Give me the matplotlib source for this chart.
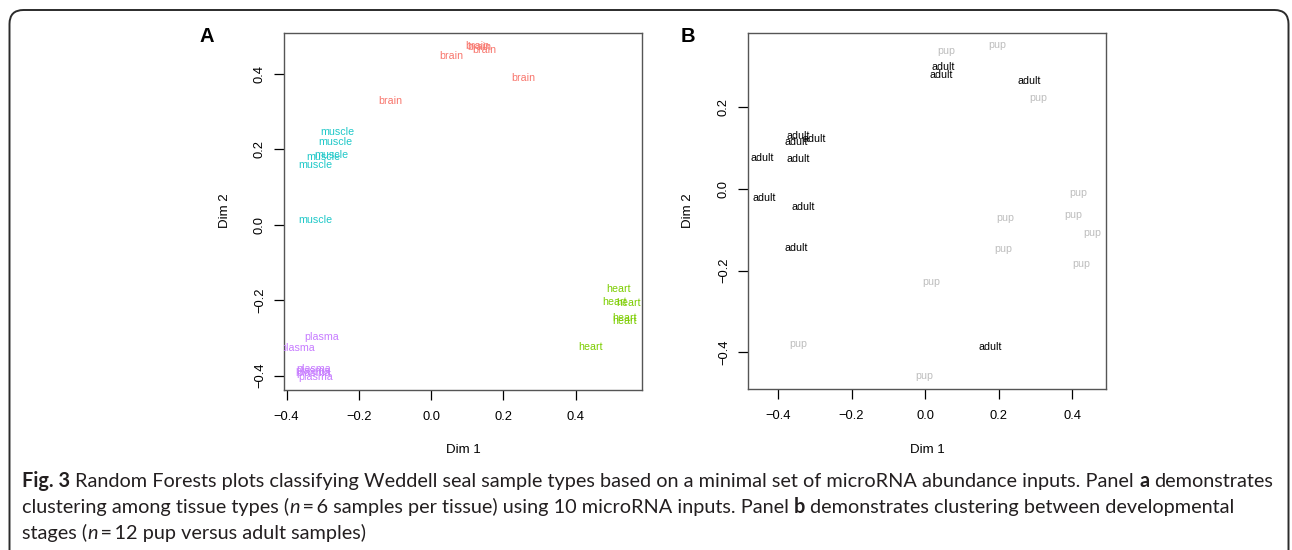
import matplotlib
matplotlib.use("Agg")
import matplotlib.pyplot as plt
from matplotlib.transforms import IdentityTransform
from matplotlib.patches import FancyBboxPatch

plt.rcParams['font.family'] = ['Liberation Sans', 'DejaVu Sans']

# ---------------- data ----------------
# Panel A: tissue types (Dim 1, Dim 2)
brain_x = [0.128, 0.135, 0.148, 0.055, 0.256, -0.113]
brain_y = [0.474, 0.471, 0.463, 0.447, 0.389, 0.328]
muscle_x = [-0.260, -0.265, -0.275, -0.298, -0.321, -0.320]
muscle_y = [0.246, 0.218, 0.185, 0.180, 0.157, 0.0125]
heart_x = [0.520, 0.508, 0.548, 0.537, 0.535, 0.442]
heart_y = [-0.171, -0.205, -0.208, -0.246, -0.254, -0.323]
plasma_x = [-0.303, -0.368, -0.326, -0.328, -0.324, -0.319]
plasma_y = [-0.298, -0.326, -0.383, -0.388, -0.394, -0.403]

tissues = ["brain", "muscle", "heart", "plasma"]
tissue_colors = ["#F8766D", "#1FC8C8", "#7CCD00", "#C77CFF"]

# Panel B: developmental stages
adult_x = [0.050, 0.043, 0.284, -0.344, -0.350, -0.301, -0.444, -0.346, -0.438, -0.331, -0.351, 0.177]
adult_y = [0.299, 0.278, 0.265, 0.130, 0.116, 0.122, 0.075, 0.073, -0.023, -0.043, -0.145, -0.388]
pup_x = [0.057, 0.197, 0.308, 0.417, 0.404, 0.218, 0.455, 0.213, 0.426, 0.016, -0.346, -0.002]
pup_y = [0.339, 0.352, 0.222, -0.011, -0.064, -0.070, -0.109, -0.148, -0.184, -0.229, -0.379, -0.457]

stages = ["adult", "pup"]
stage_colors = ["#000000", "#BEBEBE"]

tick_vals = [-0.4, -0.2, 0.0, 0.2, 0.4]
tick_labels = ["\u22120.4", "\u22120.2", "0.0", "0.2", "0.4"]
tick_vals_B_y = [-0.4, -0.2, 0.0, 0.2]
tick_labels_B_y = ["\u22120.4", "\u22120.2", "0.0", "0.2"]

# ---------------- figure ----------------
W, H = 1292, 550
fig = plt.figure(figsize=(W / 100, H / 100), dpi=100)


def px_axes(l, t, r, b):
    return fig.add_axes([l / W, 1 - b / H, (r - l) / W, (b - t) / H])


def style_axes(ax, xt, xtl, yt, ytl):
    for s in ax.spines.values():
        s.set_color("#555555")
        s.set_linewidth(1.0)
    ax.set_xticks(xt)
    ax.set_xticklabels(xtl)
    ax.set_yticks(yt)
    ax.set_yticklabels(ytl, rotation=90, va="center")
    ax.tick_params(axis="x", length=7, width=0.9, pad=8, labelsize=9.3, colors="black")
    ax.tick_params(axis="y", length=7, width=0.9, pad=6, labelsize=9.3, colors="black")


lab_size = 7.7

# Panel A
axA = px_axes(284, 33, 642, 390)
axA.set_xlim(-0.407, 0.584)
axA.set_ylim(-0.438, 0.508)
for name, col, xs, ys in zip(tissues, tissue_colors,
                             [brain_x, muscle_x, heart_x, plasma_x],
                             [brain_y, muscle_y, heart_y, plasma_y]):
    for x, y in zip(xs, ys):
        axA.text(x, y, name, color=col, ha="center", va="center",
                 fontsize=lab_size, clip_on=True)
style_axes(axA, tick_vals, tick_labels, tick_vals, tick_labels)

# Panel B
axB = px_axes(748, 33, 1106, 389)
axB.set_xlim(-0.482, 0.4925)
axB.set_ylim(-0.490, 0.382)
for name, col, xs, ys in zip(stages, stage_colors,
                             [adult_x, pup_x], [adult_y, pup_y]):
    for x, y in zip(xs, ys):
        axB.text(x, y, name, color=col, ha="center", va="center",
                 fontsize=lab_size, clip_on=True)
style_axes(axB, tick_vals, tick_labels, tick_vals_B_y, tick_labels_B_y)

ID = IdentityTransform()


def ptext(x, y, s, **kw):
    return fig.text(x, H - y, s, transform=ID, **kw)


# axis titles
ptext(463, 450, "Dim 1", ha="center", va="center", fontsize=9.5)
ptext(927, 450, "Dim 1", ha="center", va="center", fontsize=9.5)
ptext(225, 211, "Dim 2", ha="center", va="center", rotation=90, fontsize=9.5)
ptext(688, 211, "Dim 2", ha="center", va="center", rotation=90, fontsize=9.5)

# panel letters
ptext(207, 37, "A", ha="center", va="center", fontsize=14.5, fontweight="bold")
ptext(688, 37, "B", ha="center", va="center", fontsize=14.5, fontweight="bold")

# rounded frame
frame = FancyBboxPatch((9.5, -40), 1279, 580, boxstyle="round,pad=0,rounding_size=14",
                       transform=ID, fill=False, edgecolor="#2b2b2b", linewidth=1.4)
fig.add_artist(frame)

# caption
cap_family = ["Lato", "DejaVu Sans"]
cap_color = "#231F20"
N, B, I = ("normal", "normal"), ("bold", "normal"), ("normal", "italic")
SP = None
line1 = [("Fig. 3", B), SP, ("Random Forests plots classifying Weddell seal sample types based on a minimal set of microRNA abundance inputs. Panel", N), SP, ("a", B), SP, ("demonstrates", N)]
line2 = [("clustering among tissue types (", N), ("n", I), ("\u2009=\u20096 samples per tissue) using 10 microRNA inputs. Panel", N), SP, ("b", B), SP, ("demonstrates clustering between developmental", N)]
line3 = [("stages (", N), ("n", I), ("\u2009=\u200912 pup versus adult samples)", N)]

renderer = fig.canvas.get_renderer()


def seg_width(s, style, size):
    t = fig.text(0, 0, s, fontsize=size, fontweight=style[0], fontstyle=style[1],
                 family=cap_family)
    w = t.get_window_extent(renderer).width
    t.remove()
    return w


def space_w(size):
    return seg_width("a a", N, size) - seg_width("aa", N, size)


def line_width(segs, size):
    w = 0
    for seg in segs:
        w += space_w(size) if seg is None else seg_width(seg[0], seg[1], size)
    return w


base = 12.0
cap_size = base * (1250 / line_width(line1, base))


def draw_line(segs, x0, ybase, size):
    x = x0
    for seg in segs:
        if seg is None:
            x += space_w(size)
            continue
        s, st = seg
        t = ptext(x, ybase, s, fontsize=size, fontweight=st[0], fontstyle=st[1],
                  family=cap_family, color=cap_color, ha="left", va="baseline")
        x += t.get_window_extent(renderer).width


draw_line(line1, 22, 487, cap_size)
draw_line(line2, 22, 513, cap_size)
draw_line(line3, 22, 539, cap_size)

fig.savefig("out.png", dpi=100)
